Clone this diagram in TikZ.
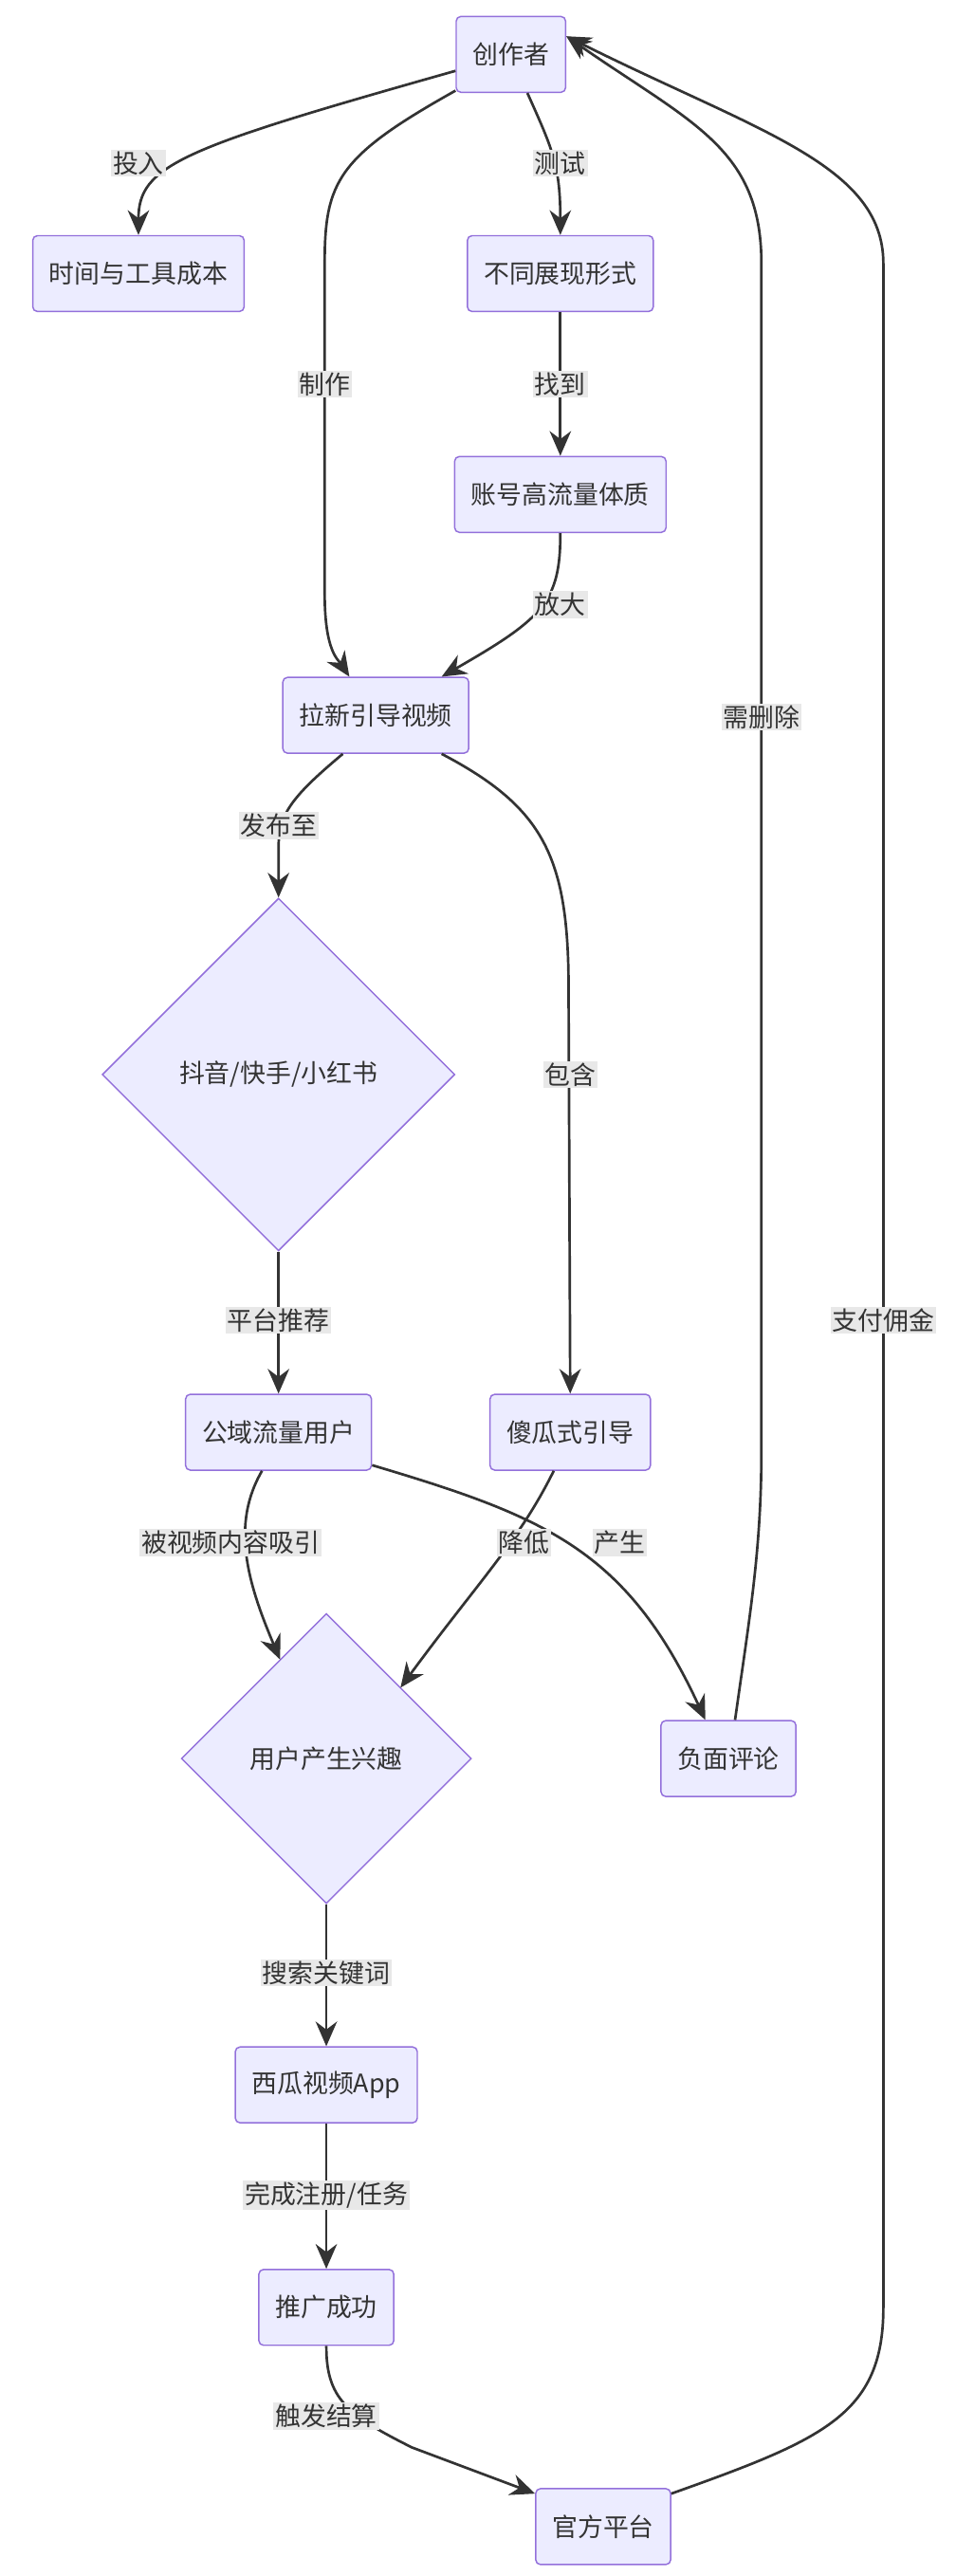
\documentclass[tikz,border=0pt]{standalone}
\usepackage{fontspec}
\setmainfont{Noto Sans CJK SC}
\usetikzlibrary{shapes.geometric,calc,arrows.meta}
\definecolor{nf}{HTML}{ECECFF}
\definecolor{ns}{HTML}{9370DB}
\definecolor{ec}{HTML}{333333}
\definecolor{lb}{HTML}{E8E8E8}
\begin{document}
\begin{tikzpicture}[x=0.05cm,y=-0.05cm,
 n/.style={draw=ns,fill=nf,line width=1.2pt,rounded corners=4pt,minimum height=2.3cm,inner xsep=0.5cm,font=\fontsize{22}{26}\selectfont,text=ec},
 d/.style={draw=ns,fill=nf,line width=1.2pt,diamond,aspect=1,inner sep=0pt,font=\fontsize{22}{26}\selectfont,text=ec},
 e/.style={draw=ec,line width=2.2pt,-{Stealth[length=0.75cm,width=0.65cm]}},
 l/.style={fill=lb,inner sep=1.5pt,font=\fontsize{22}{26}\selectfont,text=ec}]
\useasboundingbox (0,0) rectangle (580,1563);
\node[n] (cz) at (310,33) {创作者};
\node[n] (tj) at (84,166) {时间与工具成本};
\node[n] (bt) at (340,166) {不同展现形式};
\node[n] (zh) at (340,300) {账号高流量体质};
\node[n] (lx) at (228,434) {拉新引导视频};
\node[d,minimum width=214*0.05cm,minimum height=214*0.05cm] (dy) at (169,652) {抖音/快手/小红书};
\node[n] (gy) at (169,869) {公域流量用户};
\node[n] (sg) at (346,869) {傻瓜式引导};
\node[d,minimum width=176*0.05cm,minimum height=176*0.05cm] (yh) at (198,1067) {用户产生兴趣};
\node[n] (fp) at (442,1067) {负面评论};
\node[n] (xg) at (198,1265) {西瓜视频App};
\node[n] (tg) at (198,1400) {推广成功};
\node[n] (gf) at (366,1533) {官方平台};

\draw[e] ($(cz.west)+(0,10)$) .. controls (110,90) and (84,100) .. (tj.north);
\draw[e] ($(cz.south)+(10,0)$) .. controls (335,90) and (340,100) .. (bt.north);
\draw[e] ($(cz.west)+(0,22)$) .. controls (205,95) and (197,110) .. (197,160) -- (197,360) .. controls (197,395) and (205,400) .. ($(lx.north)+(-16,0)$);
\draw[e] (bt.south) -- (zh.north);
\draw[e] (zh.south) .. controls (340,365) and (330,375) .. ($(lx.north)+(40,0)$);
\draw[e] ($(lx.south)+(-20,0)$) .. controls (175,485) and (169,495) .. (169,515) -- (dy.north);
\draw[e] ($(lx.south)+(40,0)$) .. controls (330,490) and (345,520) .. (345,600) -- (sg.north);
\draw[e] (dy.south) -- (gy.north);
\draw[e] ($(gy.south)+(-10,0)$) .. controls (140,925) and (150,960) .. (170,1007);
\draw[e] ($(sg.south)+(-10,0)$) .. controls (315,935) and (290,960) .. (243,1024);
\draw[e] ($(gy.east)+(0,20)$) .. controls (330,920) and (380,940) .. ($(fp.north)+(-14,0)$);
\draw[e] ($(fp.north)+(4,0)$) .. controls (455,980) and (462,940) .. (462,880) -- (462,160) .. controls (462,90) and (420,75) .. ($(cz.east)+(0,-11)$);
\draw[e] (yh.south) -- (xg.north);
\draw[e] (xg.south) -- (tg.north);
\draw[e] (tg.south) .. controls (198,1455) and (210,1465) .. (250,1485) -- ($(gf.west)+(0,-20)$);
\draw[e] ($(gf.east)+(0,-20)$) .. controls (500,1480) and (536,1465) .. (536,1400) -- (536,160) .. controls (536,100) and (460,80) .. ($(cz.east)+(0,-11)$);

\node[l] (l1) at (84,99) {投入};
\node[l] (l2) at (340,99) {测试};
\node[l] (l3) at (197,233) {制作};
\node[l] (l4) at (340,233) {找到};
\node[l] (l5) at (340,367) {放大};
\node[l] (l6) at (169,501) {发布至};
\node[l] (l7) at (346,652) {包含};
\node[l] (l8) at (169,801) {平台推荐};
\node[l] (l9) at (140,936) {被视频内容吸引};
\node[l] (l10) at (318,936) {降低};
\node[l] (l11) at (376,936) {产生};
\node[l] (l12) at (462,435) {需删除};
\node[l] (l13) at (198,1197) {搜索关键词};
\node[l] (l14) at (198,1332) {完成注册/任务};
\node[l] (l15) at (198,1466) {触发结算};
\node[l] (l16) at (536,801) {支付佣金};
\end{tikzpicture}
\end{document}
